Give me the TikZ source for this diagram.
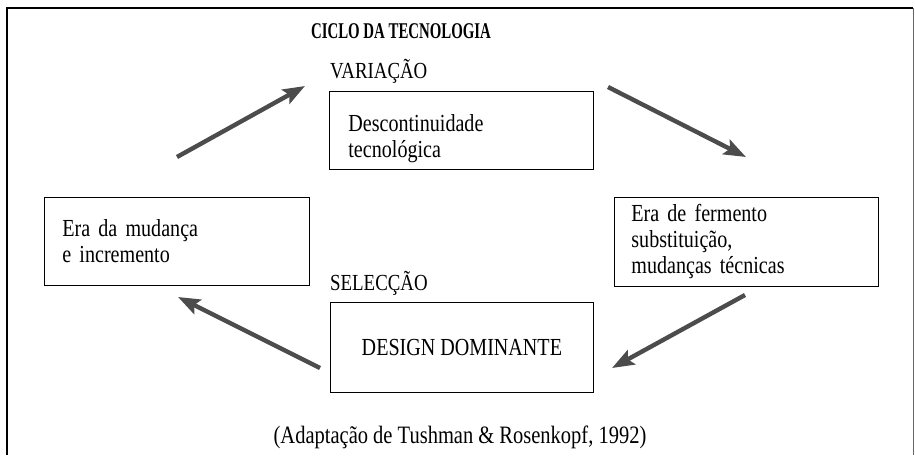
\documentclass[tikz,border=0pt]{standalone}
\usepackage{fontspec}
\setmainfont[FakeStretch=0.82]{Liberation Serif}
\newfontfamily\titlefont[FakeStretch=0.66]{Liberation Serif}
\usetikzlibrary{arrows.meta}
\tikzstyle{box}=[draw, line width=0.8pt, inner xsep=18pt, inner ysep=0pt, align=left, font=\fontsize{24.5}{26}\selectfont]
\tikzstyle{lbl}=[inner sep=0pt, font=\fontsize{23}{26}\selectfont]
\tikzstyle{edge}=[-{Stealth[length=22pt, width=16pt, inset=4pt]}, line width=4.4pt, draw=black!70, fill=gray!60]

\begin{document}
\begin{tikzpicture}[x=1pt, y=-1pt]
        \useasboundingbox (0,0) rectangle (915,455);
        %frame
        \draw [line width=1.2pt] (7,455) -- (7,8) -- (913,8);
        \draw [line width=0.8pt, black!60] (913,8) -- (913,455);
        \node(title) [lbl, font=\titlefont\fontsize{22.5}{24}\selectfont\bfseries] at (401,31){CICLO DA TECNOLOGIA};
        \node(var) [lbl, anchor=west] at (330,71){VARIAÇÃO};
        \node(sel) [lbl, anchor=west] at (330,283){SELECÇÃO};
        \node(desc) [box, minimum width=264pt, minimum height=78pt, anchor=north west] at (329,91){};
        \node(desctxt) [box, draw=none, inner sep=0pt, anchor=west, xshift=19pt, yshift=-8pt] at (desc.west){Descontinuidade\\tecnológica};
        \node(era) [box, minimum width=265pt, minimum height=88pt, text width=229pt, anchor=north west] at (44,197){Era da mudança\\e incremento};
        \node(ferm) [box, minimum width=264pt, minimum height=89pt, text width=230pt, inner xsep=17pt, anchor=north west] at (614,197){Era de fermento\\substituição,\\mudanças técnicas};
        \node(dom) [box, minimum width=263pt, minimum height=90pt, align=center, anchor=north west] at (330,302){DESIGN DOMINANTE};
        \node(src) [lbl, font=\fontsize{25}{28}\selectfont] at (460,437){(Adaptação de Tushman \& Rosenkopf, 1992)};
        \coordinate(a1) at (177,157);
        \coordinate(b1) at (305,86);
        \coordinate(a2) at (608,87);
        \coordinate(b2) at (746,157);
        \coordinate(a3) at (745,295);
        \coordinate(b3) at (612,368);
        \coordinate(a4) at (320,368);
        \coordinate(b4) at (178,297);
        \draw[edge] (a1) to (b1);
        \draw[edge] (a2) to (b2);
        \draw[edge] (a3) to (b3);
        \draw[edge] (a4) to (b4);
\end{tikzpicture}
\end{document}
